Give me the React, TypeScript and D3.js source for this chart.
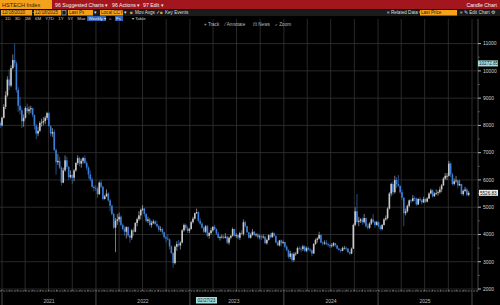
import React from "react";
import * as d3 from "d3";

// ---- data (weekly candles, HSTECH Index) ----
const START = new Date(2020, 11, 18);
const firstOpen = 7950;

const close2020 = [8080, 8000];
const high2020 = [8200, 8150];
const low2020 = [7880, 7900];

const close2021 = [8280, 8680, 9100, 9680, 9460, 10100, 10400, 10280, 9300, 8720, 8550, 8150, 8280, 8640, 8520, 8590, 8630, 8380, 7990, 7700, 7800, 8090, 8110, 8160, 8280, 8450, 7980, 7700, 7760, 7100, 6650, 6700, 6450, 5900, 6350, 6720, 6480, 6100, 6180, 6080, 6350, 6620, 6800, 6600, 6700, 6800, 6620, 6450, 6200, 6020, 5750, 5700, 5670];
const high2021 = [8320, 8780, 9250, 9800, 10050, 10200, 10600, 11000, 10350, 9400, 9050, 8650, 8400, 8700, 8800, 8700, 8720, 8650, 8400, 8050, 7950, 8150, 8250, 8300, 8350, 8500, 8480, 8000, 7900, 7850, 7150, 6950, 6850, 6500, 6450, 6900, 6850, 6500, 6350, 6200, 6400, 6650, 6900, 6850, 6780, 6850, 6900, 6700, 6500, 6350, 6100, 5800, 5800];
const low2021 = [7960, 8250, 8600, 9050, 9300, 9400, 10050, 10150, 9200, 8500, 8400, 7900, 7950, 8250, 8450, 8400, 8450, 8300, 7850, 7500, 7600, 7750, 7950, 8000, 8050, 8200, 7950, 7600, 7580, 7050, 6200, 6550, 6400, 5800, 5880, 6300, 6400, 6000, 6050, 5850, 5950, 6300, 6550, 6500, 6450, 6600, 6580, 6350, 6050, 5950, 5700, 5580, 5600];

const close2022 = [5480, 5900, 5750, 5300, 5400, 5500, 5250, 5050, 4750, 4250, 4500, 4550, 4650, 4350, 4200, 4100, 4270, 3960, 3880, 4150, 4100, 4420, 4560, 4700, 4900, 4950, 4750, 4500, 4550, 4350, 4420, 4480, 4380, 4300, 4180, 4200, 4080, 3900, 3850, 3820, 3560, 3320, 2950, 3550, 3650, 3600, 3700, 4150, 4350, 4230, 4130, 4200];
const high2022 = [5750, 5950, 6000, 5780, 5450, 5650, 5550, 5300, 5100, 4800, 4600, 4750, 4800, 4700, 4400, 4300, 4300, 4300, 4000, 4200, 4250, 4450, 4620, 4850, 4950, 5080, 4980, 4780, 4650, 4600, 4500, 4550, 4520, 4500, 4350, 4300, 4250, 4100, 3950, 4000, 3850, 3600, 3350, 3600, 3750, 3800, 3750, 4200, 4400, 4400, 4300, 4250];
const low2022 = [5350, 5450, 5700, 5250, 5280, 5380, 5200, 4850, 4700, 4200, 3350, 4350, 4450, 4300, 4150, 3950, 3850, 3900, 3700, 3800, 3950, 4080, 4300, 4500, 4550, 4850, 4650, 4450, 4420, 4300, 4250, 4380, 4350, 4250, 4100, 4100, 4000, 3850, 3700, 3780, 3450, 3280, 2780, 2900, 3400, 3550, 3450, 3680, 4100, 4150, 4050, 4050];

const close2023 = [4450, 4580, 4780, 4820, 4500, 4400, 4250, 4100, 4300, 3950, 4050, 4150, 4280, 4200, 4030, 3880, 3900, 3920, 3880, 3920, 3700, 3880, 3950, 4200, 3960, 3980, 3880, 4050, 4020, 4450, 4300, 4080, 3880, 3980, 4100, 3980, 4000, 3900, 3930, 3900, 3920, 3680, 3800, 3980, 3900, 4050, 3950, 3700, 3600, 3780, 3700, 3720];
const high2023 = [4500, 4650, 4800, 4950, 4850, 4600, 4450, 4300, 4350, 4350, 4100, 4250, 4300, 4350, 4220, 4100, 3950, 4000, 3980, 4050, 3950, 3920, 3980, 4250, 4200, 4050, 4000, 4100, 4150, 4550, 4500, 4320, 4100, 4050, 4200, 4120, 4050, 4050, 4000, 3980, 4000, 3940, 3850, 4000, 4050, 4100, 4080, 3960, 3750, 3800, 3820, 3780];
const low2023 = [4180, 4400, 4550, 4750, 4450, 4350, 4200, 4050, 4050, 3900, 3850, 4000, 4100, 4150, 3980, 3850, 3780, 3850, 3830, 3850, 3650, 3620, 3820, 3920, 3920, 3880, 3820, 3800, 3980, 3950, 4250, 4050, 3850, 3850, 3950, 3950, 3920, 3850, 3820, 3800, 3850, 3650, 3620, 3780, 3850, 3880, 3900, 3680, 3580, 3560, 3560, 3650];

const close2024 = [3550, 3420, 3180, 3300, 3060, 3280, 3300, 3500, 3480, 3470, 3560, 3400, 3500, 3450, 3420, 3300, 3650, 3800, 3850, 3980, 3700, 3680, 3700, 3650, 3620, 3570, 3600, 3680, 3600, 3480, 3430, 3400, 3500, 3510, 3480, 3350, 3300, 3480, 4350, 4850, 4460, 4500, 4550, 4450, 4600, 4300, 4250, 4400, 4550, 4470, 4350, 4450];
const high2024 = [3730, 3600, 3450, 3400, 3320, 3350, 3350, 3550, 3580, 3560, 3620, 3600, 3550, 3560, 3500, 3450, 3680, 3850, 3900, 4100, 4000, 3750, 3780, 3800, 3700, 3650, 3680, 3720, 3700, 3620, 3520, 3480, 3550, 3580, 3560, 3500, 3380, 3520, 4400, 5000, 5480, 4650, 4600, 4620, 4750, 4620, 4400, 4450, 4600, 4750, 4500, 4500];
const low2024 = [3500, 3380, 3120, 3100, 2980, 3000, 3220, 3280, 3420, 3350, 3400, 3350, 3350, 3400, 3350, 3200, 3300, 3620, 3700, 3820, 3680, 3600, 3620, 3600, 3550, 3500, 3520, 3550, 3550, 3450, 3400, 3330, 3380, 3450, 3400, 3320, 3250, 3280, 3470, 4300, 4400, 4300, 4420, 4350, 4400, 4250, 4180, 4200, 4350, 4420, 4250, 4320];

const close2025 = [4300, 4200, 4350, 4550, 4600, 4950, 5500, 5850, 5550, 6000, 5850, 5780, 5550, 5350, 4780, 4850, 5050, 5250, 5230, 5330, 5320, 5100, 5300, 5250, 5180, 5300, 5200, 5320, 5500, 5620, 5400, 5500, 5520, 5550, 5650, 5800, 6050, 6150, 6150, 6600, 6200, 5850, 5950, 5980, 5800, 5850, 5480, 5600, 5650, 5450, 5526.83];
const high2025 = [4480, 4350, 4380, 4600, 4700, 5000, 5550, 5900, 5950, 6150, 6100, 6180, 5800, 5650, 5360, 4950, 5100, 5280, 5300, 5450, 5400, 5350, 5330, 5380, 5300, 5380, 5330, 5370, 5550, 5680, 5650, 5550, 5650, 5620, 5750, 5850, 6100, 6250, 6250, 6700, 6650, 6250, 6050, 6150, 6000, 6000, 5860, 5650, 5750, 5700, 5600];
const low2025 = [4250, 4150, 4150, 4330, 4500, 4550, 4920, 5400, 5450, 5500, 5700, 5750, 5500, 5250, 4300, 4700, 4800, 5000, 5150, 5200, 5220, 5050, 5080, 5180, 5100, 5150, 5150, 5180, 5300, 5480, 5350, 5380, 5450, 5420, 5500, 5550, 5780, 6000, 6000, 6120, 6100, 5800, 5800, 5900, 5700, 5780, 5450, 5420, 5550, 5400, 5400];

const yTicks = [2000, 3000, 4000, 5000, 6000, 7000, 8000, 9000, 10000, 11000];
const years = [2021, 2022, 2023, 2024, 2025];
const lastPrice = 5526.83;
const refPrice = 10272.85;
const crossDate = "02/27/23";

const FONT = "'Liberation Sans', Arial, sans-serif";
const UP = "#c9c9c9";
const DOWN = "#3d7fd8";
const GRID = "#343434";
const ORANGE = "#f4a11c";
const RED = "#a3161d";

export default function App() {
  const closes = [...close2020, ...close2021, ...close2022, ...close2023, ...close2024, ...close2025];
  const highs = [...high2020, ...high2021, ...high2022, ...high2023, ...high2024, ...high2025];
  const lows = [...low2020, ...low2021, ...low2022, ...low2023, ...low2024, ...low2025];
  const dates = closes.map((_, i) => d3.timeWeek.offset(START, i));

  const x = d3.scaleTime().domain([new Date(2021, 0, 1), new Date(2026, 0, 1)]).range([2, 472]);
  const y = d3.scaleLinear().domain([2000, 11000]).range([289, 43.6]);

  const AX = 478;
  const TOP = 19;
  const BOT = 291;

  const quarters = d3.timeMonth.every(3)!.range(new Date(2021, 0, 1), new Date(2026, 0, 2));
  const months = d3.timeMonth.range(new Date(2021, 0, 1), new Date(2026, 0, 1));
  const yearStarts = d3.timeYear.range(new Date(2021, 0, 1), new Date(2026, 0, 2));
  const minor = d3.range(2500, 11500, 1000);

  return (
    <div style={{ position: "fixed", left: 0, top: 0, width: 500, height: 305, background: "#000" }}>
      <svg width={500} height={305} style={{ display: "block", fontFamily: FONT }}>
        <rect x={0} y={0} width={500} height={305} fill="#000" />

        {/* grid */}
        {quarters.map((d, i) => (
          <line key={"vq" + i} x1={x(d)} x2={x(d)} y1={TOP} y2={BOT} stroke={GRID} strokeWidth={0.8} />
        ))}
        {yTicks.map((t) => (
          <line key={"hg" + t} x1={0} x2={AX} y1={y(t)} y2={y(t)} stroke={GRID} strokeWidth={0.8} />
        ))}

        {/* candles */}
        {closes.map((c, i) => {
          const o = i === 0 ? firstOpen : closes[i - 1];
          const col = c >= o ? UP : DOWN;
          const cx = x(dates[i]);
          const yt = y(Math.max(o, c));
          const h = Math.max(0.8, Math.abs(y(o) - y(c)));
          return (
            <g key={"c" + i}>
              <line x1={cx} x2={cx} y1={y(highs[i])} y2={y(lows[i])} stroke={col} strokeWidth={0.6} />
              <rect x={cx - 0.8} y={yt} width={1.6} height={h} fill={col} />
            </g>
          );
        })}

        {/* right axis */}
        <line x1={AX} x2={AX} y1={TOP} y2={BOT} stroke="#5a5a5a" strokeWidth={0.8} />
        {yTicks.map((t) => (
          <g key={"yt" + t}>
            <line x1={AX} x2={AX + 3} y1={y(t)} y2={y(t)} stroke="#ddd" strokeWidth={0.8} />
            <text x={AX + 5} y={y(t) + 1.8} fontSize={5} fill="#d0d0d0">{t}</text>
          </g>
        ))}
        {minor.map((t) => (
          <line key={"mt" + t} x1={AX} x2={AX + 1.6} y1={y(t)} y2={y(t)} stroke="#999" strokeWidth={0.6} />
        ))}

        {/* price labels */}
        <rect x={AX} y={y(refPrice) - 3} width={20} height={6} fill="#a9dede" />
        <text x={AX + 1} y={y(refPrice) + 1.8} fontSize={4.6} fill="#0a2a2a">{refPrice.toFixed(2)}</text>
        <rect x={AX + 1} y={y(lastPrice) - 3} width={19} height={6} fill="#ececec" />
        <text x={AX + 2} y={y(lastPrice) + 1.8} fontSize={4.6} fill="#111">{lastPrice.toFixed(2)}</text>

        {/* bottom axis */}
        <line x1={0} x2={AX} y1={BOT} y2={BOT} stroke="#8a8a8a" strokeWidth={0.8} strokeDasharray="2 0.8" />
        {months.map((d, i) => (
          <line key={"mo" + i} x1={x(d)} x2={x(d)} y1={BOT - 1.2} y2={BOT} stroke="#aaa" strokeWidth={0.6} />
        ))}
        {yearStarts.map((d, i) => (
          <line key={"ys" + i} x1={x(d)} x2={x(d)} y1={BOT + 1} y2={305} stroke="#5e5e5e" strokeWidth={0.8} />
        ))}
        {years.map((yr) => {
          const mid = (x(new Date(yr, 0, 1)) + x(new Date(yr + 1, 0, 1))) / 2;
          const cx = yr === 2023 ? mid - 3 : mid;
          return (
            <text key={"yl" + yr} x={cx} y={302.5} fontSize={5} fill="#bdbdbd" textAnchor="middle">{yr}</text>
          );
        })}
        <rect x={196} y={297} width={21} height={6.5} fill="#9fdcdc" />
        <text x={206.5} y={302} fontSize={4.6} fill="#0a2a2a" textAnchor="middle">{crossDate}</text>

        {/* header row 1 */}
        <rect x={0} y={0} width={500} height={9} fill={RED} />
        <rect x={0} y={0} width={52} height={9} fill={ORANGE} />
        <text x={2} y={6.6} fontSize={5.6} fill="#3a1800">HSTECH Index</text>
        <text x={55} y={6.6} fontSize={5.2} fill="#f2f2f2">96 Suggested Charts ▾</text>
        <text x={112} y={6.6} fontSize={5.2} fill="#f2f2f2">96 Actions ▾</text>
        <text x={143} y={6.6} fontSize={5.2} fill="#f2f2f2">97 Edit ▾</text>
        <text x={497} y={6.6} fontSize={5.2} fill="#f2f2f2" textAnchor="end">Candle Chart</text>

        {/* header row 2 */}
        <rect x={0} y={9.5} width={500} height={6.5} fill="#1b1b1b" />
        <rect x={1} y={10} width={31} height={5.5} fill={ORANGE} />
        <text x={2} y={14.3} fontSize={4.6} fill="#222">12/18/2020</text>
        <text x={32.5} y={14.3} fontSize={4.6} fill="#ddd">-</text>
        <rect x={34} y={10} width={27} height={5.5} fill={ORANGE} />
        <text x={35} y={14.3} fontSize={4.6} fill="#222">12/18/2025</text>
        <rect x={62} y={10.5} width={4} height={4.5} fill="none" stroke="#ccc" strokeWidth={0.5} />
        <rect x={68} y={10} width={25} height={5.5} fill={ORANGE} />
        <text x={69} y={14.3} fontSize={4.6} fill="#222">Last Px</text>
        <text x={94} y={14.3} fontSize={4.6} fill="#ddd">▾</text>
        <rect x={100} y={10} width={23} height={5.5} fill={ORANGE} />
        <text x={101} y={14.3} fontSize={4.6} fill="#222">Local CCY</text>
        <text x={124} y={14.3} fontSize={4.6} fill="#ddd">▾</text>
        <text x={130} y={14.3} fontSize={4.6} fill="#e0a040">■</text>
        <text x={135} y={14.3} fontSize={4.6} fill="#ddd">Mov Avgs ✓</text>
        <text x={160} y={14.3} fontSize={4.6} fill="#e0a040">■</text>
        <text x={165} y={14.3} fontSize={4.6} fill="#ddd">Key Events</text>
        <text x={387} y={14.3} fontSize={4.6} fill="#ddd">≡ Related Data ▾</text>
        <rect x={420} y={10} width={37} height={5.5} fill={ORANGE} />
        <text x={421} y={14.3} fontSize={4.6} fill="#222">Last Price</text>
        <text x={460} y={14.3} fontSize={4.6} fill="#ddd">≡ ✎ Edit Chart ⚙</text>

        {/* header row 3 */}
        <text x={5} y={19.6} fontSize={4.4} fill="#cfcfcf" wordSpacing={3}>1D 3D 1M 6M YTD 1Y 5Y Max</text>
        <rect x={87} y={16} width={19} height={5} fill="#2f62b8" />
        <text x={88.5} y={19.8} fontSize={4.4} fill="#f0f0f0">Weekly ▾</text>
        <text x={109} y={19.8} fontSize={4.4} fill="#cfcfcf">⌗</text>
        <rect x={115} y={16} width={8} height={5} fill="#2f62b8" />
        <text x={116} y={19.8} fontSize={4.4} fill="#f0f0f0">Fs</text>
        <text x={132} y={19.8} fontSize={4.4} fill="#cfcfcf">▾  Table</text>

        {/* header row 4 */}
        <text x={204} y={26} fontSize={4.6} fill="#bdbdbd">+ Track</text>
        <text x={225} y={26} fontSize={4.6} fill="#bdbdbd">⁄ Annotate</text>
        <text x={253} y={26} fontSize={4.6} fill="#bdbdbd">⊡ News</text>
        <text x={275} y={26} fontSize={4.6} fill="#bdbdbd">⌕ Zoom</text>
      </svg>
    </div>
  );
}
